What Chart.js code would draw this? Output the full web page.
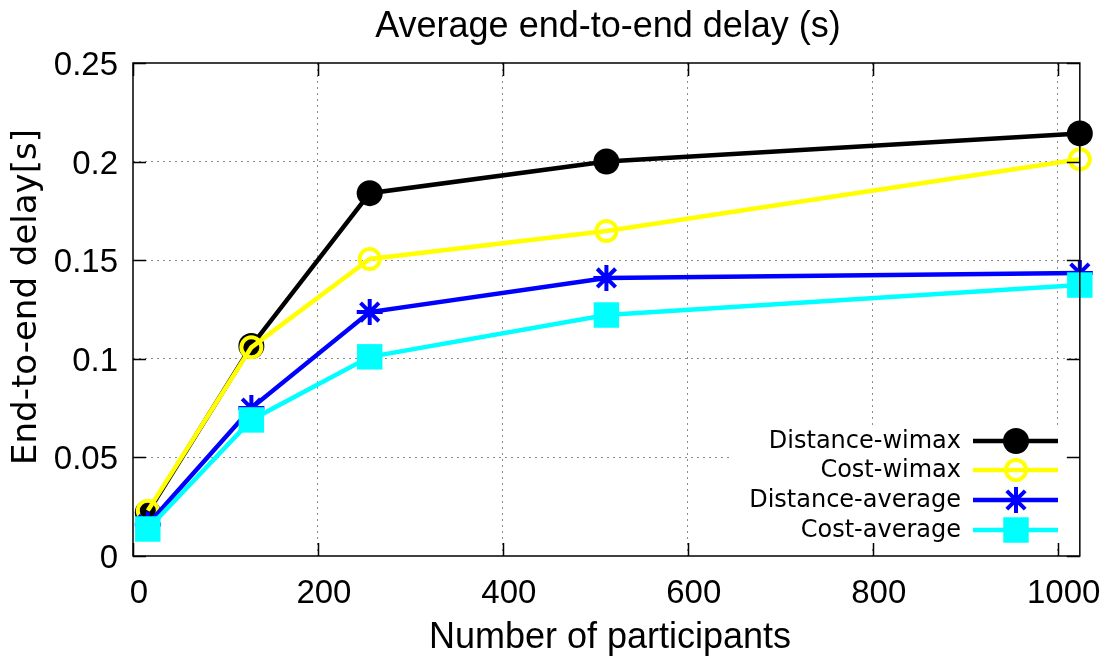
<!DOCTYPE html>
<html>
<head>
<meta charset="utf-8">
<script src="https://cdn.jsdelivr.net/npm/chart.js@4.4.1/dist/chart.umd.min.js"></script>
<style>
  html, body { margin: 0; padding: 0; background: #fff; }
  #wrap { width: 1113px; height: 657px; position: relative; }
</style>
</head>
<body>
<div id="wrap"><canvas id="c" width="1113" height="657"></canvas></div>
<script>
// ---- data ----
const X_VALUES = [16, 128, 256, 512, 1024];
const DISTANCE_WIMAX = [0.022, 0.1065, 0.184, 0.200, 0.2143];
const COST_WIMAX = [0.023, 0.1058, 0.1506, 0.1648, 0.2012];
const DISTANCE_AVERAGE = [0.016, 0.075, 0.1237, 0.141, 0.1435];
const COST_AVERAGE = [0.0137, 0.069, 0.101, 0.1222, 0.1374];
const SERIES_NAMES = ['Distance-wimax', 'Cost-wimax', 'Distance-average', 'Cost-average'];
const X_TICKS = [0, 200, 400, 600, 800, 1000];
const Y_TICKS = [0, 0.05, 0.1, 0.15, 0.2, 0.25];
const Y_TICK_LABELS = ['0', '0.05', '0.1', '0.15', '0.2', '0.25'];
const TITLE = 'Average end-to-end delay (s)';
const X_TITLE = 'Number of participants';
const Y_TITLE = 'End-to-end delay[s]';

function pts(ys) { return X_VALUES.map((x, i) => ({ x: x, y: ys[i] })); }

const datasets = [
  { label: SERIES_NAMES[0], data: pts(DISTANCE_WIMAX), borderColor: '#000000', backgroundColor: '#000000',
    pointStyle: 'circle', pointRadius: 13, pointBorderWidth: 0, pointBackgroundColor: '#000000', order: 4 },
  { label: SERIES_NAMES[1], data: pts(COST_WIMAX), borderColor: '#ffff00', backgroundColor: 'rgba(0,0,0,0)',
    pointStyle: 'circle', pointRadius: 10, pointBorderWidth: 4, pointBackgroundColor: 'rgba(0,0,0,0)', order: 3 },
  { label: SERIES_NAMES[2], data: pts(DISTANCE_AVERAGE), borderColor: '#0000ff', backgroundColor: '#0000ff',
    pointStyle: 'star', pointRadius: 13, pointBorderWidth: 4, pointBackgroundColor: '#0000ff', order: 2 },
  { label: SERIES_NAMES[3], data: pts(COST_AVERAGE), borderColor: '#00ffff', backgroundColor: '#00ffff',
    pointStyle: 'rect', pointRadius: 18, pointBorderWidth: 0, pointBackgroundColor: '#00ffff', order: 1 }
];
datasets.forEach(d => { d.borderWidth = 4.5; d.tension = 0; d.fill = false; d.clip = false; d.pointHoverRadius = d.pointRadius; });

const TICK_FONT = { family: '"Liberation Sans", Arial, sans-serif', size: 33 };

function gridColor(ctx, edges) {
  const v = ctx.tick ? ctx.tick.value : null;
  if (v === null || edges.some(e => Math.abs(e - v) < 1e-9)) return 'rgba(0,0,0,0)';
  return '#8c8c8c';
}

function drawMarker(ctx, style, x, y, r, bw, color, fill) {
  ctx.save();
  ctx.strokeStyle = color; ctx.fillStyle = color; ctx.lineWidth = bw;
  ctx.beginPath();
  if (style === 'circle') {
    ctx.arc(x, y, r, 0, Math.PI * 2);
    if (fill) ctx.fill(); else ctx.stroke();
  } else if (style === 'rect') {
    const s = Math.SQRT1_2 * r;
    ctx.fillRect(x - s, y - s, 2 * s, 2 * s);
  } else if (style === 'star') {
    for (let k = 0; k < 4; k++) {
      const a = k * Math.PI / 4;
      ctx.moveTo(x - Math.cos(a) * r, y - Math.sin(a) * r);
      ctx.lineTo(x + Math.cos(a) * r, y + Math.sin(a) * r);
    }
    ctx.stroke();
  }
  ctx.restore();
}

const deco = {
  id: 'deco',
  beforeDatasetsDraw(chart) {
    const ctx = chart.ctx, a = chart.chartArea;
    ctx.save();
    ctx.fillStyle = '#ffffff';
    ctx.fillRect(733, 425, a.right - 733, 120);
    ctx.restore();
  },
  afterDatasetsDraw(chart) {
    const ctx = chart.ctx, a = chart.chartArea, xs = chart.scales.x, ys = chart.scales.y;
    ctx.save();
    ctx.strokeStyle = '#000'; ctx.lineWidth = 1.5;
    ctx.beginPath();
    X_TICKS.forEach(v => {
      const p = Math.round(xs.getPixelForValue(v)) + 0.5;
      ctx.moveTo(p, a.bottom); ctx.lineTo(p, a.bottom - 13);
      ctx.moveTo(p, a.top); ctx.lineTo(p, a.top + 13);
    });
    Y_TICKS.forEach(v => {
      const p = Math.round(ys.getPixelForValue(v)) + 0.5;
      ctx.moveTo(a.left, p); ctx.lineTo(a.left + 13, p);
      ctx.moveTo(a.right, p); ctx.lineTo(a.right - 13, p);
    });
    ctx.stroke();
    ctx.strokeRect(a.left, a.top, a.right - a.left, a.bottom - a.top);
    ctx.restore();
  },
  afterDraw(chart) {
    const ctx = chart.ctx, a = chart.chartArea;
    ctx.save();
    ctx.fillStyle = '#000';
    ctx.font = '36px "Liberation Sans", Arial, sans-serif';
    ctx.textAlign = 'center'; ctx.textBaseline = 'alphabetic';
    ctx.fillText(TITLE, 608, 37);
    ctx.fillText(X_TITLE, 610, 648);
    ctx.save();
    ctx.translate(27, 297);
    ctx.rotate(-Math.PI / 2);
    ctx.textBaseline = 'middle';
    ctx.font = '34px "DejaVu Sans", sans-serif';
    ctx.fillText(Y_TITLE, 0, 0);
    ctx.restore();
    // legend
    const rows = [441, 470, 500, 530];
    ctx.font = '24px "DejaVu Sans", sans-serif';
    ctx.textAlign = 'right'; ctx.textBaseline = 'middle';
    chart.data.datasets.forEach((d, i) => {
      const y = rows[i];
      ctx.fillStyle = '#000';
      ctx.fillText(d.label, 961, y + 1);
      ctx.strokeStyle = d.borderColor; ctx.lineWidth = 4.5;
      ctx.beginPath(); ctx.moveTo(973, y); ctx.lineTo(1058, y); ctx.stroke();
      drawMarker(ctx, d.pointStyle, 1016, y, d.pointRadius, d.pointBorderWidth, d.borderColor,
                 d.pointStyle === 'circle' && d.pointBorderWidth === 0);
    });
    ctx.restore();
  }
};

new Chart(document.getElementById('c'), {
  type: 'line',
  data: { datasets: datasets },
  plugins: [deco],
  options: {
    responsive: false,
    devicePixelRatio: 1,
    animation: false,
    layout: { padding: { top: 63, right: 28, left: 0, bottom: 0 } },
    plugins: { legend: { display: false }, title: { display: false }, tooltip: { enabled: false } },
    scales: {
      x: {
        type: 'linear', min: 0, max: 1024,
        afterBuildTicks: s => { s.ticks = X_TICKS.map(v => ({ value: v })); },
        afterFit: s => { s.height = 101; },
        ticks: { font: TICK_FONT, color: '#000', padding: 18, labelOffset: 6, maxRotation: 0, autoSkip: false,
                 callback: v => String(v) },
        grid: { drawTicks: false, lineWidth: 1, color: c => gridColor(c, [0, 1024]) },
        border: { display: false, dash: [2, 4] }
      },
      y: {
        type: 'linear', min: 0, max: 0.25,
        afterBuildTicks: s => { s.ticks = Y_TICKS.map(v => ({ value: v })); },
        afterFit: s => { s.width = 133; },
        ticks: { font: TICK_FONT, color: '#000', padding: 15, labelOffset: 3, autoSkip: false,
                 callback: (v) => { const i = Y_TICKS.findIndex(t => Math.abs(t - v) < 1e-9); return i >= 0 ? Y_TICK_LABELS[i] : ''; } },
        grid: { drawTicks: false, lineWidth: 1, color: c => gridColor(c, [0, 0.25]) },
        border: { display: false, dash: [2, 4] }
      }
    }
  }
});
</script>
</body>
</html>
